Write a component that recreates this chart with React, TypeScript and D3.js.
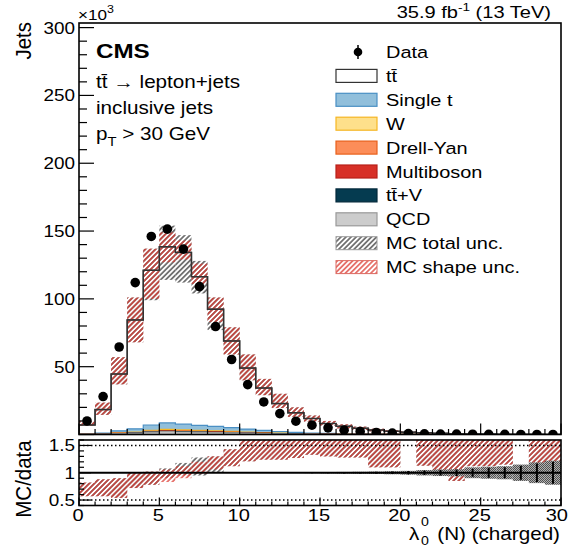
import React from "react";
import * as d3 from "d3";

// ---------- data (values in thousands of jets) ----------
const binEdges = d3.range(0, 31); // 30 bins of width 1, from 0 to 30
const dataValues = [10, 28, 64.5, 112, 146, 151.4, 136.7, 109, 79.6, 55.3, 36.8, 24, 15.4, 9.8, 6.9, 4.9, 3.2, 2.2, 1.5, 1.0, 0.7, 0.5, 0.35, 0.25, 0.18, 0.12, 0.08, 0.05, 0.03, 0.02];
const ttbar = [6.7, 17.4, 41.9, 80.3, 114, 129.8, 126.6, 109.6, 86.4, 64, 45, 31.3, 20.6, 14.4, 10.7, 7.3, 5.55, 4.2, 3.02, 2.2, 1.56, 1.1, 0.78, 0.55, 0.385, 0.275, 0.182, 0.128, 0.092, 0.065];
const singleT = [0.17, 0.55, 1.5, 2.3, 3.9, 4.7, 4.2, 3.7, 3.3, 2.75, 2.2, 1.65, 1.2, 0.88, 0.6, 0.44, 0.3, 0.22, 0.15, 0.11, 0.08, 0.055, 0.04, 0.028, 0.02, 0.014, 0.01, 0.007, 0.005, 0.003];
const wJets = [0.03, 0.1, 0.3, 0.45, 0.75, 0.9, 0.8, 0.7, 0.65, 0.55, 0.45, 0.35, 0.25, 0.18, 0.13, 0.09, 0.06, 0.045, 0.03, 0.022, 0.015, 0.011, 0.008, 0.006, 0.004, 0.003, 0.002, 0.0015, 0.001, 0.0007];
const drellYan = [0.01, 0.04, 0.12, 0.2, 0.33, 0.42, 0.38, 0.34, 0.3, 0.25, 0.2, 0.15, 0.11, 0.08, 0.055, 0.04, 0.028, 0.02, 0.014, 0.01, 0.007, 0.005, 0.004, 0.003, 0.002, 0.0015, 0.001, 0.0007, 0.0005, 0.0003];
const multiboson = [0.005, 0.02, 0.05, 0.08, 0.14, 0.17, 0.15, 0.14, 0.12, 0.1, 0.08, 0.06, 0.045, 0.03, 0.022, 0.016, 0.011, 0.008, 0.006, 0.004, 0.003, 0.002, 0.0015, 0.001, 0.0007, 0.0005, 0.0004, 0.0003, 0.0002, 0.0001];
const ttV = [0.01, 0.03, 0.08, 0.13, 0.2, 0.25, 0.23, 0.2, 0.18, 0.15, 0.12, 0.09, 0.07, 0.05, 0.035, 0.025, 0.018, 0.013, 0.009, 0.006, 0.004, 0.003, 0.002, 0.0015, 0.001, 0.0007, 0.0005, 0.0003, 0.0002, 0.0001];
const qcd = [0.07, 0.25, 0.65, 1.0, 1.7, 2.1, 1.85, 1.7, 1.45, 1.2, 0.95, 0.7, 0.52, 0.38, 0.26, 0.19, 0.13, 0.095, 0.07, 0.05, 0.035, 0.025, 0.018, 0.012, 0.008, 0.006, 0.004, 0.003, 0.002, 0.0015];

const mainShapeLo = [6.5, 14.5, 37, 68, 100, 127, 129, 111, 83, 59, 40, 29, 19.5, 13, 9.5, 6.5, 4.5, 3.3, 2.3, 1.6, 1.1, 0.75, 0.5, 0.35, 0.25, 0.17, 0.12, 0.08, 0.05, 0.035];
const mainShapeHi = [9.8, 23.5, 57, 101, 137, 149, 143, 126, 101, 79, 59, 41, 30, 20, 14, 10, 7.5, 5.8, 4.3, 3.2, 2.3, 1.6, 1.15, 0.8, 0.55, 0.4, 0.28, 0.2, 0.14, 0.1];
const mainTotalLo = [6.5, 14.5, 37, 68, 99, 114, 112, 104, 77, 59, 40, 29, 19.5, 13, 9.5, 6.5, 4.5, 3.3, 2.3, 1.6, 1.1, 0.75, 0.5, 0.35, 0.25, 0.17, 0.12, 0.08, 0.05, 0.035];
const mainTotalHi = [9.8, 23.5, 57, 101, 137, 154, 147, 128, 101, 79, 59, 41, 30, 20, 14, 10, 7.5, 5.8, 4.3, 3.2, 2.3, 1.6, 1.15, 0.8, 0.55, 0.4, 0.28, 0.2, 0.14, 0.1];

const ratioShapeLo = [0.57, 0.57, 0.54, 0.72, 0.78, 0.83, 0.9, 0.98, 1.06, 1.12, 1.21, 1.24, 1.24, 1.27, 1.33, 1.3, 1.28, 1.28, 1.1, 1.1, 1.65, 1.13, 1.04, 0.85, 1.12, 1.12, 1.15, 1.65, 1.15, 1.12];
const ratioShapeHi = [0.82, 0.88, 0.9, 1.0, 1.02, 1.06, 1.12, 1.2, 1.3, 1.43, 1.7, 1.8, 1.8, 1.8, 1.8, 1.8, 1.8, 1.8, 1.8, 1.8, 1.8, 1.8, 1.8, 1.8, 1.8, 1.8, 1.8, 1.8, 1.8, 1.8];
const ratioTotalLo = [0.57, 0.57, 0.54, 0.72, 0.78, 0.9, 0.95, 0.95, 1.0, 1.12, 1.21, 1.24, 1.24, 1.27, 1.33, 1.3, 1.28, 1.28, 1.1, 1.1, 1.65, 1.13, 1.04, 0.85, 1.12, 1.12, 1.15, 1.65, 1.15, 1.12];
const ratioTotalHi = [0.82, 0.88, 0.9, 1.0, 1.02, 1.08, 1.18, 1.28, 1.3, 1.43, 1.7, 1.8, 1.8, 1.8, 1.8, 1.8, 1.8, 1.8, 1.8, 1.8, 1.8, 1.8, 1.8, 1.8, 1.8, 1.8, 1.8, 1.8, 1.8, 1.8];
const ratioStatBox = [0.004, 0.003, 0.002, 0.002, 0.002, 0.002, 0.002, 0.002, 0.002, 0.003, 0.003, 0.004, 0.005, 0.006, 0.008, 0.012, 0.015, 0.018, 0.022, 0.028, 0.035, 0.05, 0.06, 0.065, 0.1, 0.11, 0.12, 0.15, 0.19, 0.22];
const ratioDataErr = [0.004, 0.003, 0.002, 0.002, 0.002, 0.002, 0.002, 0.002, 0.002, 0.003, 0.003, 0.004, 0.005, 0.006, 0.008, 0.01, 0.012, 0.015, 0.02, 0.025, 0.03, 0.04, 0.05, 0.06, 0.075, 0.09, 0.1, 0.13, 0.17, 0.2];

const mainYTicks = [50, 100, 150, 200, 250, 300];
const ratioYTicks = [0.5, 1, 1.5];
const xTicks = [0, 5, 10, 15, 20, 25, 30];

const legendEntries = [
  { label: "Data", kind: "data" },
  { label: "tt\u0304", kind: "box", fill: "#ffffff", stroke: "#333333" },
  { label: "Single t", kind: "box", fill: "#91bfdb", stroke: "#4a8fc4" },
  { label: "W", kind: "box", fill: "#fee08b", stroke: "#f6b624" },
  { label: "Drell-Yan", kind: "box", fill: "#fc8d59", stroke: "#e8601c" },
  { label: "Multiboson", kind: "box", fill: "#d73027", stroke: "#b8201a" },
  { label: "tt\u0304+V", kind: "box", fill: "#053b50", stroke: "#03283a" },
  { label: "QCD", kind: "box", fill: "#cccccc", stroke: "#999999" },
  { label: "MC total unc.", kind: "hatchGrey" },
  { label: "MC shape unc.", kind: "hatchRed" },
];

// ---------- layout ----------
const W = 569, H = 554;
const X0 = 79, X1 = 561;
const MAIN_TOP = 23, MAIN_BOT = 434.5;
const R_TOP = 440, R_BOT = 505.5;
const FONT = "'Liberation Sans', Arial, Helvetica, sans-serif";
const SX = 1.18;

const x = d3.scaleLinear().domain([0, 30]).range([X0, X1]);
const y = d3.scaleLinear().domain([0, 303.4]).range([MAIN_BOT, MAIN_TOP]);
const yr = d3.scaleLinear().domain([0.4, 1.6]).range([R_BOT, R_TOP]);

function T({ x: tx, y: ty, size, anchor = "start", weight = "normal", children }: any) {
  return (
    <text transform={`translate(${tx},${ty}) scale(${SX},1)`} fontSize={size} textAnchor={anchor} fontFamily={FONT} fontWeight={weight} fill="#000">
      {children}
    </text>
  );
}

function stepPath(vals: number[], ys: any) {
  const p = d3.path();
  p.moveTo(x(binEdges[0]), ys.range()[0]);
  vals.forEach((v, i) => {
    p.lineTo(x(binEdges[i]), ys(v));
    p.lineTo(x(binEdges[i + 1]), ys(v));
  });
  p.lineTo(x(binEdges[vals.length]), ys.range()[0]);
  p.closePath();
  return p.toString();
}

function stepLine(vals: number[], ys: any) {
  const p = d3.path();
  p.moveTo(x(binEdges[0]), ys(vals[0]));
  vals.forEach((v, i) => {
    p.lineTo(x(binEdges[i]), ys(v));
    p.lineTo(x(binEdges[i + 1]), ys(v));
  });
  return p.toString();
}

export default function App() {
  // stack from bottom: QCD, ttV, Multiboson, DY, W, Single t, ttbar
  const layers = [
    { vals: qcd, fill: "#cccccc", stroke: "#999999" },
    { vals: ttV, fill: "#053b50", stroke: "#03283a" },
    { vals: multiboson, fill: "#d73027", stroke: "#b8201a" },
    { vals: drellYan, fill: "#fc8d59", stroke: "#e8601c" },
    { vals: wJets, fill: "#fee08b", stroke: "#f6b624" },
    { vals: singleT, fill: "#91bfdb", stroke: "#4a8fc4" },
    { vals: ttbar, fill: "#ffffff", stroke: "#333333" },
  ];
  const cum: number[][] = [];
  layers.forEach((l, k) => {
    cum.push(l.vals.map((v, i) => v + (k > 0 ? cum[k - 1][i] : 0)));
  });
  const mcTotal = cum[cum.length - 1];

  const bins = d3.range(30);
  const mainMinor = d3.range(0, 304, 10);
  const ratioMinor = d3.range(0.4, 1.61, 0.1);
  const xMinor = d3.range(0, 31, 1);

  return (
    <svg width={W} height={H} style={{ position: "absolute", left: 0, top: 0, background: "#fff" }}>
      <defs>
        <pattern id="hRed" patternUnits="userSpaceOnUse" width="3.6" height="3.6" patternTransform="rotate(45)">
          <line x1="1.8" y1="-1" x2="1.8" y2="5" stroke="#dc3a32" strokeWidth="1.3" />
        </pattern>
        <pattern id="hGrey" patternUnits="userSpaceOnUse" width="3.6" height="3.6" patternTransform="rotate(45)">
          <line x1="1.8" y1="-1" x2="1.8" y2="5" stroke="#3a3a3a" strokeWidth="1.3" />
        </pattern>
        <pattern id="chk" patternUnits="userSpaceOnUse" width="2" height="2">
          <rect width="2" height="2" fill="#b0b0b0" />
          <rect width="1" height="1" fill="#505050" />
          <rect x="1" y="1" width="1" height="1" fill="#505050" />
        </pattern>
        <clipPath id="clipMain"><rect x={X0} y={MAIN_TOP} width={X1 - X0} height={MAIN_BOT - MAIN_TOP} /></clipPath>
        <clipPath id="clipRatio"><rect x={X0} y={R_TOP} width={X1 - X0} height={R_BOT - R_TOP} /></clipPath>
      </defs>
      <rect x={0} y={0} width={W} height={H} fill="#fff" />

      {/* ---------- main panel ---------- */}
      <g clipPath="url(#clipMain)">
        {layers.slice().reverse().map((l, k) => {
          const idx = layers.length - 1 - k;
          return <path key={idx} d={stepPath(cum[idx], y)} fill={l.fill} stroke={l.stroke} strokeWidth={1.2} />;
        })}
        {bins.map((i) => (
          <rect key={"gt" + i} x={x(binEdges[i])} width={x(binEdges[i + 1]) - x(binEdges[i])} y={y(mainTotalHi[i])} height={y(mainTotalLo[i]) - y(mainTotalHi[i])} fill="url(#hGrey)" />
        ))}
        {bins.map((i) => (
          <rect key={"rs" + i} x={x(binEdges[i])} width={x(binEdges[i + 1]) - x(binEdges[i])} y={y(mainShapeHi[i])} height={y(mainShapeLo[i]) - y(mainShapeHi[i])} fill="url(#hRed)" />
        ))}
        <path d={stepLine(mcTotal, y)} fill="none" stroke="#333" strokeWidth={1.5} />
        {bins.map((i) => (
          <circle key={"d" + i} cx={x(binEdges[i] + 0.5)} cy={y(dataValues[i])} r={4.8} fill="#000" />
        ))}
      </g>
      {/* main axes ticks */}
      {mainMinor.map((v) => (
        <line key={"my" + v} x1={X0} x2={X0 + (v % 50 === 0 ? 15 : 8)} y1={y(v)} y2={y(v)} stroke="#000" strokeWidth={1.2} />
      ))}
      {xMinor.map((v) => (
        <line key={"mx" + v} x1={x(v)} x2={x(v)} y1={MAIN_BOT} y2={MAIN_BOT - (v % 5 === 0 ? 11 : 5.5)} stroke="#000" strokeWidth={1.2} />
      ))}
      <rect x={X0} y={MAIN_TOP} width={X1 - X0} height={MAIN_BOT - MAIN_TOP} fill="none" stroke="#000" strokeWidth={1.6} />
      {mainYTicks.map((v) => (
        <T key={"myl" + v} x={75} y={y(v) + 6} size={16} anchor="end">{v}</T>
      ))}
      <T x={78} y={20} size={14.5}>
        {"\u00d710"}
        <tspan dy={-7} fontSize={10.5}>3</tspan>
      </T>
      <text transform={`translate(31,22) rotate(-90) scale(1,1.1)`} fontSize={20.5} textAnchor="end" fontFamily={FONT}>Jets</text>

      {/* header texts */}
      <T x={551} y={18} size={17} anchor="end">
        {"35.9 fb"}
        <tspan dy={-7} fontSize={11.5}>-1</tspan>
        <tspan dy={7}>{" (13 TeV)"}</tspan>
      </T>
      <T x={96} y={58} size={20.5} weight="bold">CMS</T>
      <T x={96} y={88} size={17.5}>{"tt\u0304 \u2192 lepton+jets"}</T>
      <T x={96} y={114} size={17.5}>inclusive jets</T>
      <T x={96} y={140} size={17.5}>
        {"p"}
        <tspan dy={6} fontSize={12.5}>T</tspan>
        <tspan dy={-6}>{" > 30 GeV"}</tspan>
      </T>

      {/* legend */}
      {legendEntries.map((e, i) => {
        const cy = 52 + i * 23.9;
        let marker: any = null;
        if (e.kind === "data") {
          marker = (
            <g>
              <line x1={358} x2={358} y1={cy - 7} y2={cy + 7} stroke="#000" strokeWidth={1.5} />
              <circle cx={358} cy={cy} r={4.3} fill="#000" />
            </g>
          );
        } else if (e.kind === "box") {
          marker = <rect x={336} y={cy - 6.5} width={41} height={13} fill={e.fill} stroke={e.stroke} strokeWidth={1.2} />;
        } else if (e.kind === "hatchGrey") {
          marker = <rect x={336} y={cy - 6.5} width={41} height={13} fill="url(#hGrey)" stroke="#999" strokeWidth={1} />;
        } else {
          marker = <rect x={336} y={cy - 6.5} width={41} height={13} fill="url(#hRed)" stroke="#dc6a62" strokeWidth={1} />;
        }
        return (
          <g key={"lg" + i}>
            {marker}
            <T x={386} y={cy + 6} size={16.9}>{e.label}</T>
          </g>
        );
      })}

      {/* ---------- ratio panel ---------- */}
      <g clipPath="url(#clipRatio)">
        {bins.map((i) => (
          <rect key={"rgt" + i} x={x(binEdges[i])} width={x(binEdges[i + 1]) - x(binEdges[i])} y={yr(ratioTotalHi[i])} height={yr(ratioTotalLo[i]) - yr(ratioTotalHi[i])} fill="url(#hGrey)" />
        ))}
        {bins.map((i) => (
          <rect key={"rrs" + i} x={x(binEdges[i])} width={x(binEdges[i + 1]) - x(binEdges[i])} y={yr(ratioShapeHi[i])} height={yr(ratioShapeLo[i]) - yr(ratioShapeHi[i])} fill="url(#hRed)" />
        ))}
        <line x1={X0} x2={X1} y1={yr(1.5)} y2={yr(1.5)} stroke="#000" strokeWidth={1.4} strokeDasharray="1.5,2.5" />
        <line x1={X0} x2={X1} y1={yr(0.5)} y2={yr(0.5)} stroke="#000" strokeWidth={1.4} strokeDasharray="1.5,2.5" />
        {bins.map((i) => (
          <rect key={"sb" + i} x={x(binEdges[i])} width={x(binEdges[i + 1]) - x(binEdges[i])} y={yr(1 + ratioStatBox[i])} height={yr(1 - ratioStatBox[i]) - yr(1 + ratioStatBox[i])} fill="url(#chk)" />
        ))}
        <line x1={X0} x2={X1} y1={yr(1)} y2={yr(1)} stroke="#000" strokeWidth={2} />
        {bins.map((i) => (
          <line key={"eb" + i} x1={x(binEdges[i] + 0.5)} x2={x(binEdges[i] + 0.5)} y1={yr(1 + ratioDataErr[i])} y2={yr(1 - ratioDataErr[i])} stroke="#000" strokeWidth={2} />
        ))}
      </g>
      {ratioMinor.map((v, k) => {
        const major = Math.abs(v - 0.5) < 1e-6 || Math.abs(v - 1) < 1e-6 || Math.abs(v - 1.5) < 1e-6;
        return <line key={"ry" + k} x1={X0} x2={X0 + (major ? 12 : 5)} y1={yr(v)} y2={yr(v)} stroke="#000" strokeWidth={1.2} />;
      })}
      {xMinor.map((v) => (
        <line key={"rx" + v} x1={x(v)} x2={x(v)} y1={R_BOT} y2={R_BOT - (v % 5 === 0 ? 8 : 4)} stroke="#000" strokeWidth={1.2} />
      ))}
      <rect x={X0} y={R_TOP} width={X1 - X0} height={R_BOT - R_TOP} fill="none" stroke="#000" strokeWidth={1.6} />
      {ratioYTicks.map((v) => (
        <T key={"ryl" + v} x={75} y={yr(v) + 6} size={16} anchor="end">{v}</T>
      ))}
      {xTicks.map((v) => (
        v === 30
          ? <T key={"xl" + v} x={568} y={521} size={17} anchor="end">{v}</T>
          : <T key={"xl" + v} x={x(v) - 1} y={521} size={17} anchor="middle">{v}</T>
      ))}
      <text transform={`translate(31,479) rotate(-90) scale(1,1.1)`} fontSize={20.5} textAnchor="middle" fontFamily={FONT}>MC/data</text>

      {/* x-axis title */}
      <T x={560} y={540} size={17.5} anchor="end">(N) (charged)</T>
      <T x={409} y={540} size={17.5}>{"\u03bb"}</T>
      <T x={421} y={526} size={12}>0</T>
      <T x={421} y={545} size={12}>0</T>
    </svg>
  );
}
